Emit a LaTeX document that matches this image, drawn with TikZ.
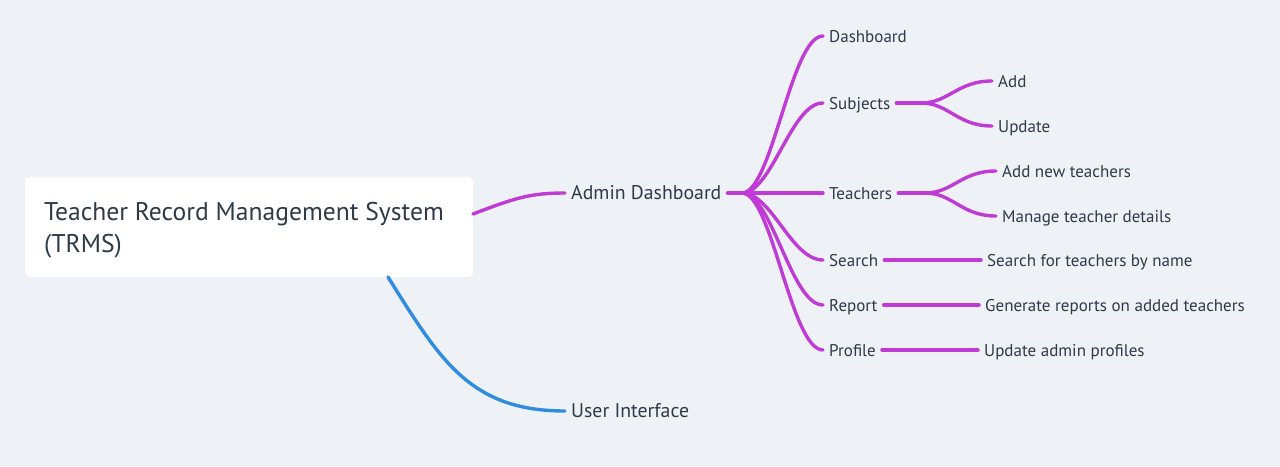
\documentclass[tikz,border=0pt]{standalone}
\usepackage{fontspec}
\setmainfont{PT Sans}
\definecolor{bg}{HTML}{EEF2F6}
\definecolor{txt}{HTML}{2E3A48}
\definecolor{pur}{HTML}{C03AD6}
\definecolor{blu}{HTML}{2F8CDE}
\tikzset{
  lbl/.style={anchor=west, inner xsep=6pt, inner ysep=0pt, text height=14.5pt, text depth=2pt, text=txt, font=\fontsize{17}{20}\selectfont},
  mid/.style={anchor=west, inner xsep=6pt, inner ysep=0pt, text height=16pt, text depth=2.5pt, text=txt, font=\fontsize{19.8}{22}\selectfont},
  plink/.style={draw=pur, line width=3.4pt, line cap=round},
  blink/.style={draw=blu, line width=3.4pt, line cap=round},
}
\begin{document}
\begin{tikzpicture}[x=1pt,y=-1pt]
\fill[bg] (0,0) rectangle (1280,466);
\useasboundingbox (0,0) rectangle (1280,466);
% root
\node[fill=white, rounded corners=5pt, minimum width=448pt, minimum height=100pt, anchor=north west, inner sep=0] (root) at (25,177) {};
\node[anchor=north west, text=txt, align=left, font=\fontsize{25.6}{32}\selectfont, inner sep=0] (roottxt) at (44,202) {Teacher Record Management System\\(TRMS)};
% level 1
\node[mid] (admin) at (565,193) {Admin Dashboard};
\node[mid] (user) at (565,411) {User Interface};
% level 2
\node[lbl] (dash) at (823,36) {Dashboard};
\node[lbl] (subj) at (823,103) {Subjects};
\node[lbl] (teach) at (823,193) {Teachers};
\node[lbl] (search) at (823,260) {Search};
\node[lbl] (report) at (823,305) {Report};
\node[lbl] (profile) at (823,350) {Profile};
% level 3
\node[lbl] (add) at (992,81) {Add};
\node[lbl] (upd) at (992,126) {Update};
\node[lbl] (addt) at (996,171) {Add new teachers};
\node[lbl] (mant) at (996,216) {Manage teacher details};
\node[lbl] (srch) at (981,260) {Search for teachers by name};
\node[lbl] (gen) at (979,305) {Generate reports on added teachers};
\node[lbl] (updp) at (978,350) {Update admin profiles};
% coordinates
\coordinate (rootout) at (473,214);
\coordinate (rootdown) at (388,277);
\coordinate (hub) at (742,193);
\coordinate (shub) at (921,103);
\coordinate (thub) at (925,193);
% connectors
\draw[plink] (rootout) .. controls (515,198) and (530,193) .. (admin.west);
\draw[blink] (rootdown) .. controls (440,360) and (470,411) .. (user.west);
\draw[plink] (admin.east) -- (hub);
\foreach \n in {dash,subj,teach,search,report,profile}{
  \draw[plink] (hub) .. controls ([xshift=30pt]hub) and ([xshift=-32pt]\n.west) .. (\n.west);
}
\draw[plink] (subj.east) -- (shub);
\draw[plink] (shub) .. controls ([xshift=28pt]shub) and ([xshift=-35pt]add.west) .. (add.west);
\draw[plink] (shub) .. controls ([xshift=28pt]shub) and ([xshift=-35pt]upd.west) .. (upd.west);
\draw[plink] (teach.east) -- (thub);
\draw[plink] (thub) .. controls ([xshift=28pt]thub) and ([xshift=-35pt]addt.west) .. (addt.west);
\draw[plink] (thub) .. controls ([xshift=28pt]thub) and ([xshift=-35pt]mant.west) .. (mant.west);
\draw[plink] (search.east) -- (srch.west);
\draw[plink] (report.east) -- (gen.west);
\draw[plink] (profile.east) -- (updp.west);
\end{tikzpicture}
\end{document}
